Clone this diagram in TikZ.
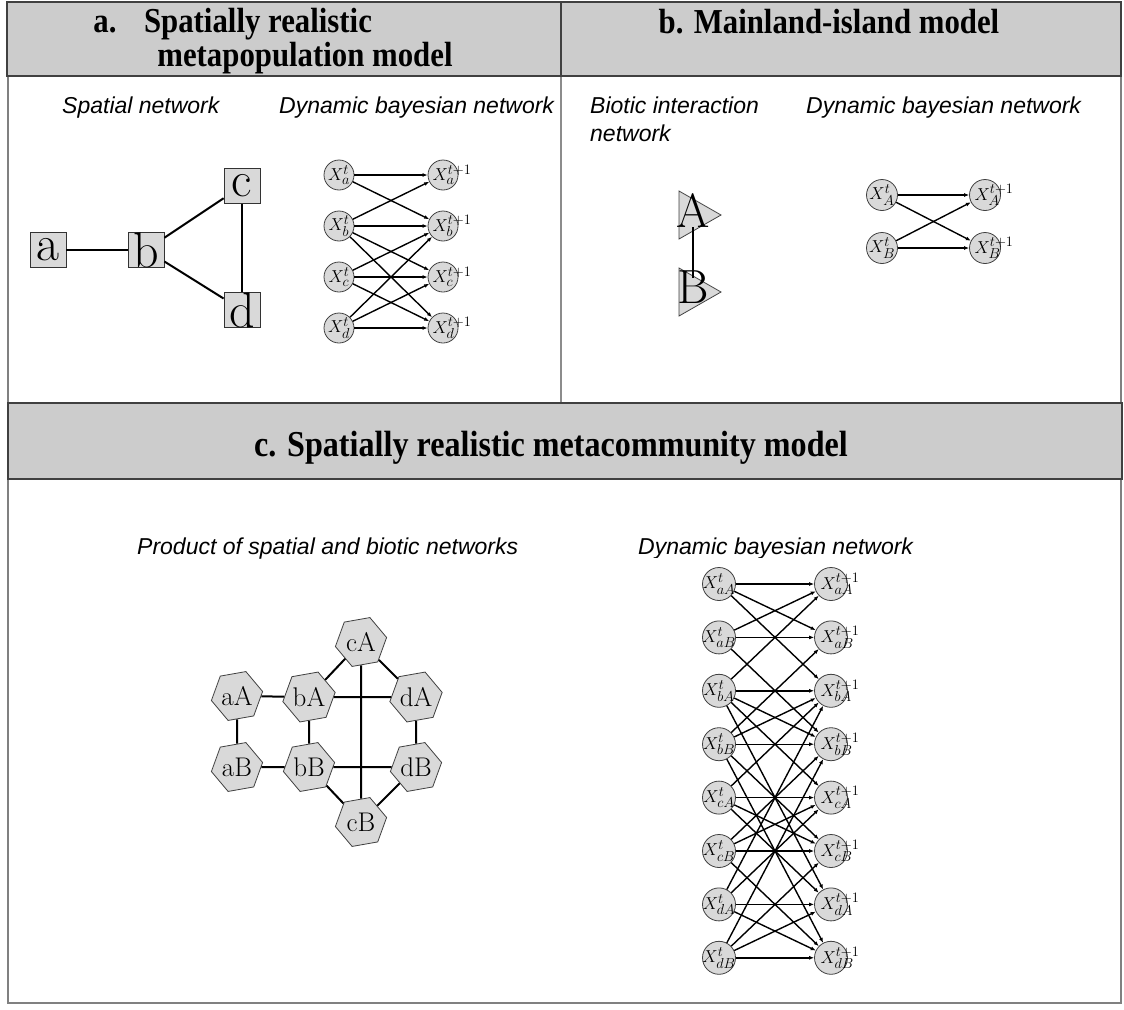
\documentclass[tikz,border=0pt]{standalone}
\usepackage{fontspec}
\newfontfamily\ttlfont{Liberation Serif}[FakeStretch=0.88]
\newfontfamily\subfont{Liberation Sans}
\usetikzlibrary{shapes.geometric,arrows.meta,calc}
\begin{document}
\begin{tikzpicture}[x=1pt,y=-1pt,
 hdr/.style={draw=black!75,line width=1.6pt,fill=black!20},
 frame/.style={draw=black!50,line width=2pt},
 ttl/.style={font=\ttlfont\bfseries\fontsize{35}{35}\selectfont, inner sep=0pt, anchor=base},
 sub/.style={font=\subfont\itshape\fontsize{23}{28}\selectfont, inner sep=0pt, anchor=base west},
 sq/.style={draw=black!80, fill=black!15, minimum width=36pt, minimum height=35pt, inner sep=0pt, line width=0.8pt},
 big/.style={font=\fontsize{50}{50}\selectfont, inner sep=0pt, label distance=0pt},
 edge/.style={line width=2pt},
 dbn/.style={circle, draw=black!75, fill=black!15, minimum size=#1, inner sep=0pt, line width=0.8pt},
 xl/.style={font=\fontsize{19}{19}\selectfont, inner sep=0pt, label distance=0pt},
 arr/.style={line width=1.4pt, -{Latex[length=5pt,width=4pt]}},
 tri/.style={draw=black!75, fill=black!15, line width=0.8pt},
 hex/.style={regular polygon, regular polygon sides=6, shape border rotate=10, draw=black!75, fill=black!15, minimum size=52pt, inner sep=0pt, line width=0.8pt, font=\fontsize{27}{27}\selectfont}
]
\useasboundingbox (0,0) rectangle (1124,1009);
% frames
\draw[frame] (8,76) -- (8,1003) -- (1121,1003) -- (1121,76);
\draw[draw=black!45, line width=2pt] (561,76) -- (561,403);
\draw[hdr] (7,2) rectangle (561,76);
\draw[hdr] (561,2) rectangle (1121,76);
\draw[hdr] (8,403) rectangle (1122,479);
% titles
\node[ttl] (ta) at (105,32) {a.};
\node[ttl] (ta1) at (258,32) {Spatially realistic};
\node[ttl] (ta2) at (305,66) {metapopulation model};
\node[ttl] (tb) at (829,33) {b. Mainland-island model};
\node[ttl, font=\ttlfont\bfseries\fontsize{36.5}{36.5}\selectfont] (tc) at (551,456) {c. Spatially realistic metacommunity model};
% subtitles
\node[sub] (s1) at (62,113) {Spatial network};
\node[sub] (s2) at (279,113) {Dynamic bayesian network};
\node[sub] (s3) at (590,113) {Biotic interaction};
\node[sub] (s3b) at (590,141) {network};
\node[sub] (s4) at (806,113) {Dynamic bayesian network};
\node[sub] (s5) at (137,554) {Product of spatial and biotic networks};
\node[sub] (s6) at (638,554) {Dynamic bayesian network};
\fill[white] (645,558) rectangle (880,992);
% ---- panel a: spatial network
\node[sq, label={[big]center:a}] (a) at (48,250) {};
\node[sq, label={[big]center:b}] (b) at (146,250) {};
\node[sq, label={[big]center:c}] (c) at (242,186) {};
\node[sq, label={[big]center:d}] (d) at (242,310) {};
\draw[edge] (a) -- (b);
\draw[edge] (b) -- (c);
\draw[edge] (b) -- (d);
\draw[edge] (c) -- (d);
% ---- panel a: DBN
\foreach \n/\y in {a/175,b/226,c/277,d/328}{
  \node[dbn=30pt, label={[xl]center:$X^t_\n$}] (La\n) at (339,\y) {};
  \node[dbn=30pt, label={[xl,xshift=9pt]center:$X^{t+1}_\n$}] (Ra\n) at (443,\y) {};
}
\foreach \s/\t in {a/a,a/b,b/a,b/b,b/c,b/d,c/b,c/c,c/d,d/b,d/c,d/d}
  \draw[arr] (La\s) -- (Ra\t);
% ---- panel b: biotic network
\coordinate (A) at (693,215);
\coordinate (B) at (693,292);
\draw[tri, shift={(A)}] (-14,-24) -- (28,0) -- (-14,24) -- cycle;
\draw[tri, shift={(B)}] (-14,-24) -- (28,0) -- (-14,24) -- cycle;
\node[big, font=\fontsize{48}{48}\selectfont] (At) at ($(A)+(0,-4)$) {A};
\node[big, font=\fontsize{48}{48}\selectfont] (Bt) at ($(B)+(0,-5)$) {B};
\draw[line width=2.6pt, shorten <=12pt, shorten >=14pt] (A) -- (B);
% ---- panel b: DBN
\foreach \n/\y in {A/195,B/248}{
  \node[dbn=31pt, label={[xl]center:$X^t_\n$}] (Lb\n) at (882,\y) {};
  \node[dbn=31pt, label={[xl,xshift=9pt]center:$X^{t+1}_\n$}] (Rb\n) at (985,\y) {};
}
\foreach \s/\t in {A/A,A/B,B/A,B/B}
  \draw[arr] (Lb\s) -- (Rb\t);
% ---- panel c: product network
\node[hex] (aA) at (237,696) {aA};
\node[hex] (bA) at (309,697) {bA};
\node[hex] (cA) at (361,642) {cA};
\node[hex] (dA) at (416,697) {dA};
\node[hex] (aB) at (237,767) {aB};
\node[hex] (bB) at (309,767) {bB};
\node[hex] (cB) at (361,822) {cB};
\node[hex] (dB) at (416,767) {dB};
\foreach \s/\t in {aA/bA,aA/aB,aB/bB,bA/bB,bA/cA,bA/dA,cA/dA,cA/cB,dA/dB,bB/dB,bB/cB,cB/dB}
  \draw[edge] (\s) -- (\t);
% ---- panel c: DBN
\foreach \n [count=\i from 0] in {aA,aB,bA,bB,cA,cB,dA,dB}{
  \pgfmathsetmacro\yy{584+53.4*\i}
  \node[dbn=33pt, label={[xl]center:$X^t_{\n}$}] (Lc\n) at (719,\yy) {};
  \node[dbn=33pt, label={[xl,xshift=9pt]center:$X^{t+1}_{\n}$}] (Rc\n) at (831,\yy) {};
}
\foreach \s/\t in {aA/aA,aA/aB,aA/bA,
                   aB/aB,aB/aA,aB/bB,
                   bA/bA,bA/bB,bA/aA,bA/cA,bA/dA,
                   bB/bB,bB/bA,bB/aB,bB/cB,bB/dB,
                   cA/cA,cA/cB,cA/bA,cA/dA,
                   cB/cB,cB/cA,cB/bB,cB/dB,
                   dA/dA,dA/dB,dA/bA,dA/cA,
                   dB/dB,dB/dA,dB/bB,dB/cB}
  \draw[arr] (Lc\s) -- (Rc\t);
\end{tikzpicture}
\end{document}
